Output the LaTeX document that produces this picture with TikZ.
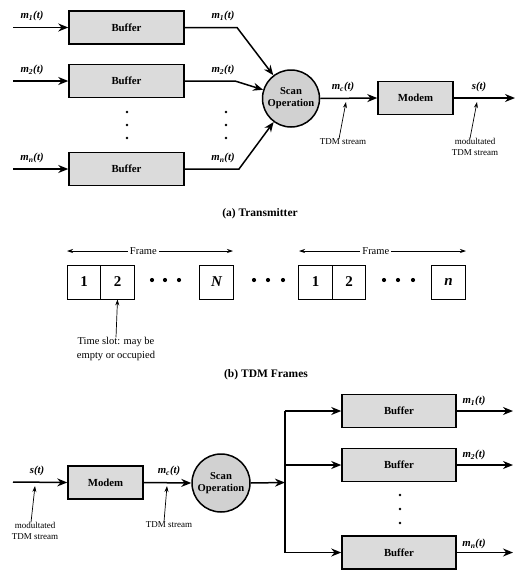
\documentclass[tikz,border=0pt]{standalone}
\usepackage{fontspec}
\setmainfont{Liberation Serif}
\usetikzlibrary{arrows.meta}
\begin{document}
\begin{tikzpicture}[x=1pt,y=-1pt,
  buf/.style={draw,line width=1.5pt,fill=black!14,minimum width=115pt,minimum height=33pt,inner sep=0pt,font=\bfseries\fontsize{10.8}{12}\selectfont},
  scan/.style={draw,circle,line width=1.5pt,fill=black!18,minimum size=57pt,inner sep=0pt,align=center,font=\bfseries\fontsize{10.6}{12}\selectfont},
  sig/.style={line width=1.5pt,-{Stealth[length=10pt,width=8pt]}},
  wire/.style={line width=1.5pt},
  lab/.style={font=\bfseries\itshape\fontsize{10.8}{12}\selectfont,inner sep=1pt},
  note/.style={font=\fontsize{9}{10.5}\selectfont,align=center,inner sep=0pt},
  bignote/.style={font=\fontsize{10.5}{13.5}\selectfont,align=center,inner sep=0pt},
  ptr/.style={line width=0.7pt,-{Stealth[length=6pt,width=4pt]}},
  frm/.style={line width=0.7pt,{Stealth[length=6pt,width=4pt]}-{Stealth[length=6pt,width=4pt]}},
  slot/.style={draw,line width=0.9pt,minimum width=33.5pt,minimum height=34pt,inner sep=0pt,font=\bfseries\fontsize{15}{15}\selectfont},
  dot/.style={circle,fill,inner sep=0pt,minimum size=2.8pt},
  bigdot/.style={circle,fill,inner sep=0pt,minimum size=4.2pt},
  capt/.style={font=\bfseries\fontsize{11.5}{13}\selectfont}
]
\useasboundingbox (0,0) rectangle (532,576);

% ---------------- (a) Transmitter ----------------
\node[buf] (tb1) at (126.5,27.5) {Buffer};
\node[buf] (tb2) at (126.5,81) {Buffer};
\node[buf] (tbn) at (126.5,169) {Buffer};
\coordinate (ti1) at (13,27.5);
\coordinate (ti2) at (13,81);
\coordinate (tin) at (13,169);
\draw[sig] (ti1) -- (tb1.west);
\draw[sig] (ti2) -- (tb2.west);
\draw[sig] (tin) -- (tbn.west);
\node[lab] (tl1) at (32,16) {m\textsubscript{1}(t)};
\node[lab] (tl2) at (32,70) {m\textsubscript{2}(t)};
\node[lab] (tln) at (32,158) {m\textsubscript{n}(t)};

\node[scan] (ts) at (291,98.5) {Scan\\Operation};
\coordinate (tk1) at (237,27.5);
\coordinate (tk2) at (235,81);
\coordinate (tkn) at (239,169);
\draw[sig] (tb1.east) -- (tk1) -- (ts);
\draw[sig] (tb2.east) -- (tk2) -- (ts);
\draw[sig] (tbn.east) -- (tkn) -- (ts);
\node[lab] (to1) at (223,16) {m\textsubscript{1}(t)};
\node[lab] (to2) at (223,70) {m\textsubscript{2}(t)};
\node[lab] (ton) at (223,158) {m\textsubscript{n}(t)};

\node[dot] (td1) at (127,112) {};
\node[dot] (td2) at (127,125) {};
\node[dot] (td3) at (127,138) {};
\node[dot] (td4) at (226,112) {};
\node[dot] (td5) at (226,125) {};
\node[dot] (td6) at (226,138) {};

\node[buf,minimum width=75pt] (tm) at (415.5,98) {Modem};
\draw[sig] (ts.east) -- (tm.west);
\coordinate (tout) at (515,98);
\draw[sig] (tm.east) -- (tout);
\node[lab] (tmc) at (343,87) {m\textsubscript{c}(t)};
\node[lab] (tst) at (479,87) {s(t)};

\node[note] (tn1) at (343,142) {TDM stream};
\coordinate (tq1) at (346,102);
\draw[ptr] ([xshift=-4pt]tn1.north) -- (tq1);
\node[note] (tn2) at (475,147) {modultated\\TDM stream};
\coordinate (tq2) at (477,102);
\draw[ptr] ([xshift=-5pt]tn2.north) -- (tq2);

\node[capt] (capa) at (260,214) {(a) Transmitter};

% ---------------- (b) TDM Frames ----------------
\coordinate (fa1) at (67,251);
\coordinate (fb1) at (233,251);
\draw[frm] (fa1) -- (fb1) node[pos=0.46,fill=white,inner sep=2pt,font=\fontsize{10.5}{11}\selectfont] (fr1) {Frame};
\coordinate (fa2) at (299,251);
\coordinate (fb2) at (466,251);
\draw[frm] (fa2) -- (fb2) node[pos=0.46,fill=white,inner sep=2pt,font=\fontsize{10.5}{11}\selectfont] (fr2) {Frame};

\node[slot] (s1) at (84,282) {1};
\node[slot] (s2) at (117.5,282) {2};
\node[slot] (sN) at (216.5,282) {\itshape N};
\node[slot] (s1b) at (315.5,282) {1};
\node[slot] (s2b) at (349,282) {2};
\node[slot] (sn) at (448.5,282) {\itshape n};

\node[bigdot] (fd1) at (152,280) {};
\node[bigdot] (fd2) at (165,280) {};
\node[bigdot] (fd3) at (179,280) {};
\node[bigdot] (fd4) at (254,280) {};
\node[bigdot] (fd5) at (268,280) {};
\node[bigdot] (fd6) at (283,280) {};
\node[bigdot] (fd7) at (384,280) {};
\node[bigdot] (fd8) at (398,280) {};
\node[bigdot] (fd9) at (413,280) {};

\node[bignote] (slotnote) at (116,349) {Time slot: may be\\empty or occupied};
\draw[ptr] (slotnote.north) -- (s2.south);

\node[capt] (capb) at (266,375) {(b) TDM Frames};

% ---------------- (c) Receiver ----------------
\coordinate (ri) at (13,482);
\node[buf,minimum width=75pt] (rm) at (105.5,482.5) {Modem};
\draw[sig] (ri) -- (rm.west);
\node[lab] (rst) at (37,471) {s(t)};
\node[note] (rn1) at (35,531) {modultated\\TDM stream};
\coordinate (rq1) at (35,486);
\draw[ptr] ([xshift=-4pt]rn1.north) -- (rq1);

\node[scan,minimum size=58pt] (rs) at (221,483) {Scan\\Operation};
\draw[sig] (rm.east) -- (rs.west);
\node[lab] (rmc) at (169,471) {m\textsubscript{c}(t)};
\node[note] (rn2) at (169,525) {TDM stream};
\coordinate (rq2) at (167,486);
\draw[ptr] ([xshift=-5pt]rn2.north) -- (rq2);

\coordinate (rj) at (285,482.5);
\coordinate (rjt) at (285,411);
\coordinate (rjm) at (285,465);
\coordinate (rjb) at (285,552.5);
\draw[sig] (rs.east) -- (rj);
\draw[wire] (rjt) -- (rjb);

\node[buf,minimum width=114pt] (rb1) at (399,411) {Buffer};
\node[buf,minimum width=114pt] (rb2) at (399,465) {Buffer};
\node[buf,minimum width=114pt] (rbn) at (399,552.5) {Buffer};
\draw[sig] (rjt) -- (rb1.west);
\draw[sig] (rjm) -- (rb2.west);
\draw[sig] (rjb) -- (rbn.west);
\coordinate (ro1) at (513,411);
\coordinate (ro2) at (513,465);
\coordinate (ron) at (513,552.5);
\draw[sig] (rb1.east) -- (ro1);
\draw[sig] (rb2.east) -- (ro2);
\draw[sig] (rbn.east) -- (ron);
\node[lab] (rl1) at (474,401) {m\textsubscript{1}(t)};
\node[lab] (rl2) at (474,455) {m\textsubscript{2}(t)};
\node[lab] (rln) at (474,544) {m\textsubscript{n}(t)};

\node[dot] (rd1) at (400,495) {};
\node[dot] (rd2) at (400,509) {};
\node[dot] (rd3) at (400,523) {};
\end{tikzpicture}
\end{document}
